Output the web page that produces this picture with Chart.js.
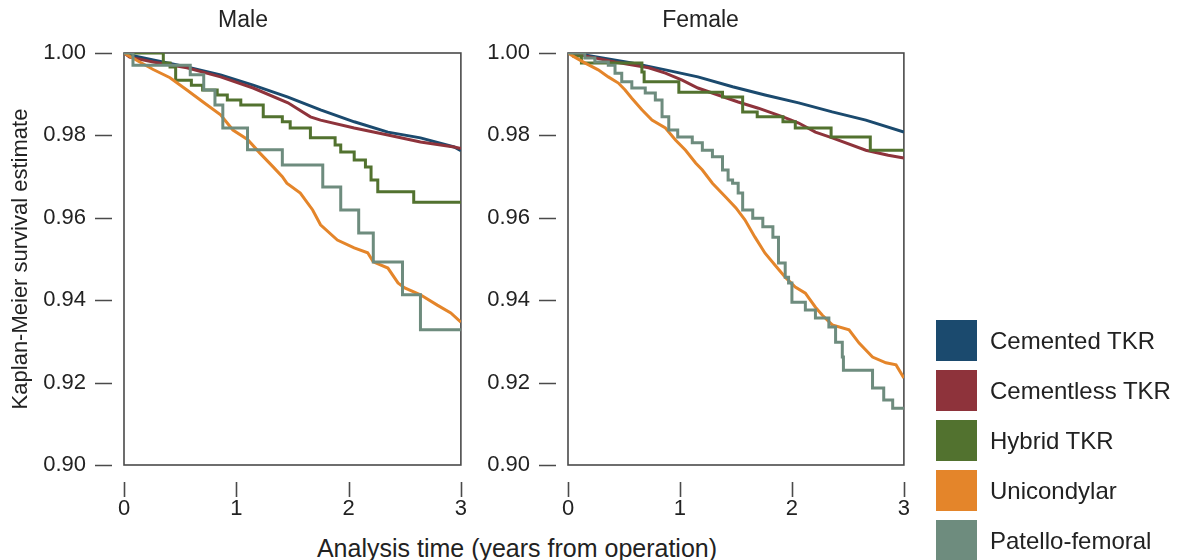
<!DOCTYPE html>
<html><head><meta charset="utf-8">
<script src="https://cdn.jsdelivr.net/npm/chart.js@4"></script>
<style>
html,body{margin:0;padding:0;background:#fff;width:1181px;height:560px;overflow:hidden;font-family:"Liberation Sans",Arial,sans-serif;color:#222;}
#c1{position:absolute;left:0;top:0;}
#c2{position:absolute;left:472px;top:0;}
#xt{position:absolute;left:0;width:1034px;top:536px;text-align:center;font-size:25px;line-height:25px;white-space:nowrap;}
.lg{position:absolute;left:936px;height:41px;line-height:41px;font-size:24px;white-space:nowrap;}
.lg span{display:inline-block;width:41px;height:41px;vertical-align:top;margin-right:13px;}
</style></head>
<body>
<canvas id="c1" width="498" height="530"></canvas>
<canvas id="c2" width="469" height="530"></canvas>
<div id="xt">Analysis time (years from operation)</div>
<div id="legend"></div>
<script>
// ---- data ----
const seriesNames = ['Cemented TKR','Cementless TKR','Hybrid TKR','Unicondylar','Patello-femoral'];
const seriesColors = ['#1b4a6e','#8e333b','#52722f','#e4852a','#6e8c7e'];
const panelTitles = ['Male','Female'];
const xTicks = [0,1,2,3];
const yTicks = [0.90,0.92,0.94,0.96,0.98,1.00];

// Male
const cemM_t = [0,0.05,0.26,0.56,0.86,1.15,1.46,1.75,2.05,2.35,2.64,2.94,3.0];
const cemM_s = [1.0,0.9995,0.9983,0.9966,0.9947,0.9922,0.9893,0.9862,0.9833,0.9808,0.9794,0.9772,0.9763];
const cmlM_t = [0,0.05,0.26,0.56,0.86,1.15,1.46,1.66,1.75,2.05,2.35,2.64,2.94,3.0];
const cmlM_s = [1.0,0.9990,0.9978,0.9964,0.9942,0.9915,0.9879,0.9845,0.9837,0.9818,0.9801,0.9784,0.9772,0.9768];
const hybM_t = [0,0.35,0.41,0.46,0.60,0.70,0.83,0.92,1.04,1.24,1.41,1.48,1.66,1.88,1.93,2.05,2.15,2.20,2.26,2.58,3.0];
const hybM_s = [1.0,0.9976,0.9966,0.9934,0.9922,0.9910,0.9898,0.9886,0.9874,0.9845,0.9833,0.9818,0.9794,0.9777,0.9760,0.9740,0.9723,0.9692,0.9663,0.9638,0.9638];
const uniM_t = [0,0.14,0.26,0.41,0.56,0.71,0.86,0.97,1.10,1.21,1.33,1.41,1.45,1.57,1.68,1.75,1.90,2.05,2.17,2.22,2.35,2.44,2.50,2.64,2.79,2.91,3.0];
const uniM_s = [1.0,0.9978,0.9960,0.9940,0.9910,0.9880,0.9850,0.9813,0.9790,0.9757,0.9723,0.9700,0.9684,0.9660,0.9619,0.9583,0.9546,0.9527,0.9515,0.9493,0.9478,0.9442,0.9430,0.9413,0.9388,0.9369,0.9347];
const patM_t = [0,0.08,0.59,0.71,0.81,0.88,1.10,1.41,1.77,1.93,2.09,2.22,2.48,2.64,3.0];
const patM_s = [1.0,0.9970,0.9947,0.9910,0.9874,0.9818,0.9765,0.9728,0.9675,0.9619,0.9563,0.9493,0.9413,0.9328,0.9328];

// Female
const cemF_t = [0,0.15,0.57,0.87,1.16,1.47,1.76,2.06,2.36,2.66,3.0];
const cemF_s = [1.0,0.9995,0.9976,0.9959,0.9942,0.9918,0.9898,0.9879,0.9857,0.9837,0.9808];
const cmlF_t = [0,0.15,0.42,0.72,0.87,1.02,1.16,1.34,1.52,1.70,1.92,2.06,2.21,2.36,2.66,2.86,3.0];
const cmlF_s = [1.0,0.9993,0.9978,0.9964,0.9951,0.9934,0.9915,0.9898,0.9881,0.9866,0.9845,0.9830,0.9808,0.9794,0.9764,0.9752,0.9745];
const hybF_t = [0,0.05,0.12,0.66,0.68,0.99,1.38,1.56,1.69,1.92,2.03,2.35,2.70,3.0];
const hybF_s = [1.0,0.9993,0.9976,0.9954,0.9930,0.9905,0.9893,0.9857,0.9845,0.9833,0.9818,0.9796,0.9764,0.9764];
const uniF_t = [0,0.06,0.15,0.27,0.36,0.45,0.51,0.57,0.66,0.75,0.87,0.96,1.05,1.14,1.20,1.29,1.41,1.50,1.58,1.67,1.76,1.85,1.94,2.03,2.12,2.21,2.27,2.36,2.51,2.60,2.72,2.84,2.93,3.0];
const uniF_s = [1.0,0.9990,0.9976,0.9959,0.9942,0.9927,0.9910,0.9890,0.9862,0.9837,0.9818,0.9789,0.9764,0.9733,0.9716,0.9684,0.9650,0.9624,0.9595,0.9553,0.9514,0.9485,0.9456,0.9432,0.9417,0.9383,0.9364,0.9340,0.9328,0.9296,0.9262,0.9248,0.9243,0.9211];
const patF_t = [0,0.15,0.24,0.36,0.42,0.48,0.57,0.69,0.78,0.84,0.90,0.98,1.11,1.20,1.29,1.38,1.43,1.47,1.52,1.56,1.65,1.74,1.83,1.88,1.94,1.97,2.00,2.12,2.21,2.33,2.39,2.45,2.46,2.72,2.82,2.90,3.0];
const patF_s = [1.0,0.9988,0.9978,0.9970,0.9951,0.9930,0.9915,0.9903,0.9886,0.9845,0.9813,0.9796,0.9782,0.9764,0.9748,0.9716,0.9692,0.9684,0.9660,0.9619,0.9599,0.9578,0.9553,0.9490,0.9456,0.9442,0.9395,0.9376,0.9357,0.9335,0.9298,0.9262,0.9230,0.9187,0.9158,0.9138,0.9138];

const stepped = [false,false,true,false,true];
const panels = [
  [[cemM_t,cemM_s],[cmlM_t,cmlM_s],[hybM_t,hybM_s],[uniM_t,uniM_s],[patM_t,patM_s]],
  [[cemF_t,cemF_s],[cmlF_t,cmlF_s],[hybF_t,hybF_s],[uniF_t,uniF_s],[patF_t,patF_s]]
];

const FONT = '"Liberation Sans", Arial, sans-serif';
const INK = '#222';

const framePlugin = {
  id: 'frame',
  beforeDatasetsDraw(chart) {
    const {ctx, chartArea: a, scales: {x, y}} = chart;
    ctx.save();
    ctx.strokeStyle = '#4a4a4a';
    ctx.lineWidth = 1.6;
    ctx.strokeRect(a.left, a.top, a.right - a.left, a.bottom - a.top);
    ctx.beginPath();
    yTicks.forEach(v => { const py = Math.round(y.getPixelForValue(v)) + 0.5; ctx.moveTo(a.left - 29, py); ctx.lineTo(a.left - 12, py); });
    xTicks.forEach(v => { const px = Math.round(x.getPixelForValue(v)) + 0.5; ctx.moveTo(px, a.bottom + 17); ctx.lineTo(px, a.bottom + 32); });
    ctx.stroke();
    ctx.restore();
  }
};

function makeChart(id, p) {
  const datasets = panels[p].map((d, i) => ({
    label: seriesNames[i],
    data: d[0].map((t, k) => ({x: t, y: d[1][k]})),
    borderColor: seriesColors[i],
    backgroundColor: seriesColors[i],
    borderWidth: 3,
    stepped: stepped[i],
    pointRadius: 0,
    fill: false,
    tension: 0
  })).reverse();
  return new Chart(document.getElementById(id), {
    type: 'line',
    data: {datasets},
    plugins: [framePlugin],
    options: {
      responsive: false,
      animation: false,
      devicePixelRatio: 1,
      layout: {padding: {top: 0, right: 12, bottom: 0, left: 0}},
      plugins: {
        legend: {display: false},
        tooltip: {enabled: false},
        title: {display: true, text: panelTitles[p], color: INK, font: {family: FONT, size: 23, weight: 'normal'}, padding: {top: 7, bottom: 18.4}}
      },
      scales: {
        x: {
          type: 'linear', min: 0, max: 3,
          afterFit: s => { s.height = 65; },
          afterBuildTicks: s => { s.ticks = xTicks.map(v => ({value: v})); },
          grid: {display: false, drawTicks: false},
          border: {display: false},
          ticks: {padding: 31, color: INK, font: {family: FONT, size: 22}, callback: v => String(v)}
        },
        y: {
          type: 'linear', min: 0.9, max: 1.0,
          afterFit: s => { s.width = (p === 0 ? 124 : 96); },
          afterBuildTicks: s => { s.ticks = yTicks.map(v => ({value: v})); },
          grid: {display: false, drawTicks: false},
          border: {display: false},
          ticks: {padding: 38, color: INK, font: {family: FONT, size: 22}, callback: v => Number(v).toFixed(2)},
          title: {display: p === 0, text: 'Kaplan-Meier survival estimate', color: INK, font: {family: FONT, size: 22}, padding: {top: 8, bottom: 0}}
        }
      }
    }
  });
}
makeChart('c1', 0);
makeChart('c2', 1);

const lg = document.getElementById('legend');
seriesNames.forEach((n, i) => {
  const d = document.createElement('div');
  d.className = 'lg';
  d.style.top = (320 + 50 * i) + 'px';
  const sw = document.createElement('span');
  sw.style.background = seriesColors[i];
  d.appendChild(sw);
  d.appendChild(document.createTextNode(n));
  lg.appendChild(d);
});
</script>
</body></html>
